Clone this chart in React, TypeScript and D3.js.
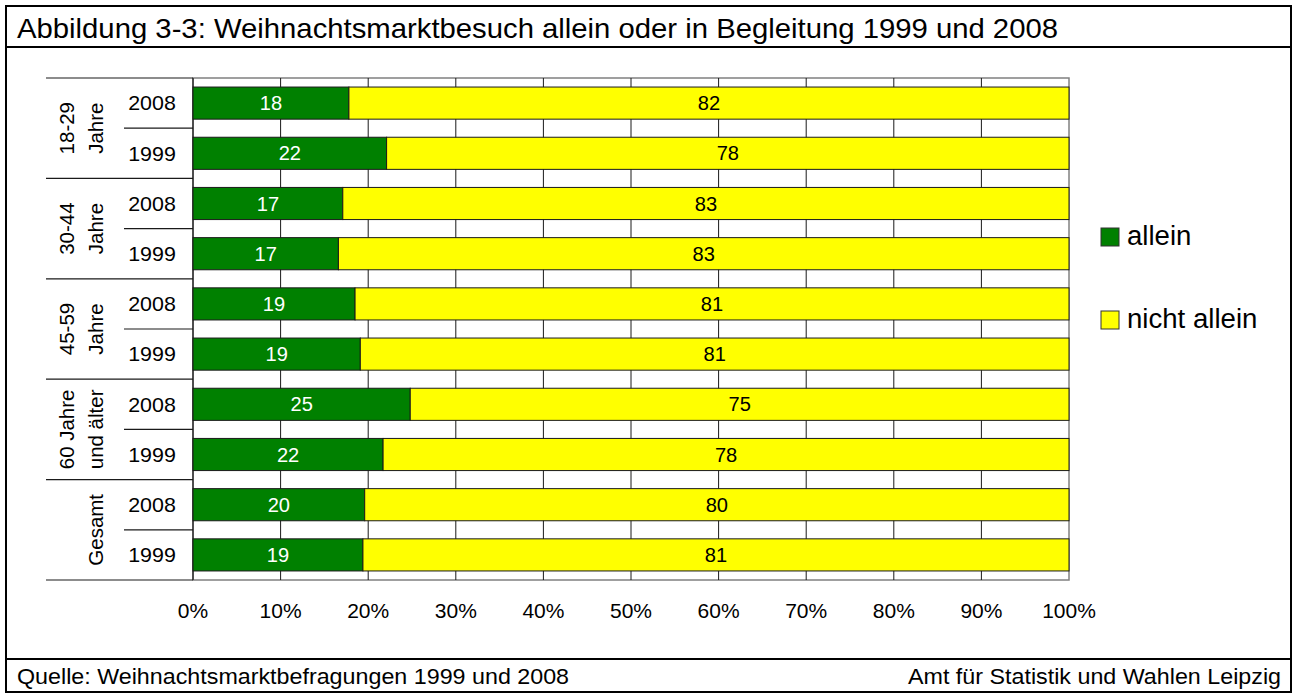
import React from "react";
import * as d3 from "d3";

const title = "Abbildung 3-3: Weihnachtsmarktbesuch allein oder in Begleitung 1999 und 2008";
const sourceLeft = "Quelle: Weihnachtsmarktbefragungen 1999 und 2008";
const sourceRight = "Amt für Statistik und Wahlen Leipzig";

const groupLabels: string[][] = [
  ["18-29", "Jahre"],
  ["30-44", "Jahre"],
  ["45-59", "Jahre"],
  ["60 Jahre", "und älter"],
  ["Gesamt"],
];
const years = ["2008", "1999"];
const alleinValues = [17.8, 22.1, 17.1, 16.6, 18.5, 19.1, 24.8, 21.7, 19.6, 19.4];
const alleinLabels = [18, 22, 17, 17, 19, 19, 25, 22, 20, 19];
const nichtLabels = [82, 78, 83, 83, 81, 81, 75, 78, 80, 81];
const seriesNames = ["allein", "nicht allein"];
const seriesColors = ["#008000", "#ffff00"];
const xTicks = [0, 10, 20, 30, 40, 50, 60, 70, 80, 90, 100];

const FONT = "'Liberation Sans', Arial, Helvetica, sans-serif";
const SX = 1.03;

function T(props: { x: number; y: number; size: number; anchor?: string; fill?: string; rot?: boolean; children: React.ReactNode }) {
  const { x, y, size, anchor = "start", fill = "#000", rot = false, children } = props;
  const tf = `translate(${x},${y}) scale(${SX},1)${rot ? " rotate(-90)" : ""}`;
  return (
    <text transform={tf} fontSize={size} textAnchor={anchor} fill={fill}>
      {children}
    </text>
  );
}

export default function App() {
  const W = 1293, H = 695;
  const plotL = 193, plotR = 1069, plotT = 78, plotB = 580;
  const x = d3.scaleLinear().domain([0, 100]).range([plotL, plotR]);
  const rows = d3.range(alleinValues.length);
  const y = d3.scaleBand<number>().domain(rows).range([plotT, plotB]).paddingInner(0.36).paddingOuter(0.18);
  const step = y.step();
  const groupH = step * 2;
  const fmt = (v: number) => `${v}%`;

  return (
    <svg width={W} height={H} style={{ position: "absolute", left: 0, top: 0, background: "#fff" }} fontFamily={FONT}>
      <rect x={0} y={0} width={W} height={H} fill="#fff" />
      {/* frame */}
      <rect x={6} y={6} width={1285} height={686} fill="none" stroke="#000" strokeWidth={2} />
      <line x1={6} x2={1291} y1={47} y2={47} stroke="#000" strokeWidth={2} />
      <line x1={6} x2={1291} y1={659} y2={659} stroke="#000" strokeWidth={2} />
      <text x={17} y={37.5} fontSize={28} textLength={1041} lengthAdjust="spacingAndGlyphs">{title}</text>
      <T x={17} y={684} size={22.6}>{sourceLeft}</T>
      <T x={1281} y={684} size={22.6} anchor="end">{sourceRight}</T>

      {/* plot area */}
      <rect x={plotL} y={plotT} width={plotR - plotL} height={plotB - plotT} fill="#fff" stroke="#808080" strokeWidth={1.5} />
      {xTicks.slice(1, -1).map((t) => (
        <line key={t} x1={x(t)} x2={x(t)} y1={plotT} y2={plotB} stroke="#1a1a1a" strokeWidth={1} />
      ))}
      <line x1={plotL} x2={plotL} y1={plotT} y2={plotB} stroke="#333" strokeWidth={1.5} />

      {/* bars */}
      {rows.map((i) => {
        const a = alleinValues[i];
        const by = y(i)!;
        const bh = y.bandwidth();
        const cy = by + bh / 2 + 7;
        return (
          <g key={i}>
            <rect x={x(0)} y={by} width={x(a) - x(0)} height={bh} fill={seriesColors[0]} stroke="#1a1a1a" strokeWidth={1} />
            <rect x={x(a)} y={by} width={x(100) - x(a)} height={bh} fill={seriesColors[1]} stroke="#1a1a1a" strokeWidth={1} />
            <T x={(x(0) + x(a)) / 2} y={cy} anchor="middle" size={19.5} fill="#fff">{alleinLabels[i]}</T>
            <T x={(x(a) + x(100)) / 2} y={cy} anchor="middle" size={19.5}>{nichtLabels[i]}</T>
          </g>
        );
      })}

      {/* category axis */}
      {groupLabels.map((g, gi) => {
        const top = plotT + gi * groupH;
        const mid = top + groupH / 2;
        const cx2 = 102.5, cx1 = 73.5;
        return (
          <g key={gi}>
            <line x1={46} x2={plotL} y1={top} y2={top} stroke="#1a1a1a" strokeWidth={1.2} />
            <line x1={124} x2={plotL} y1={top + step} y2={top + step} stroke="#1a1a1a" strokeWidth={1.2} />
            {g.length === 2 ? (
              <>
                <T x={cx1} y={mid} size={20.5} anchor="middle" rot>{g[0]}</T>
                <T x={cx2} y={mid} size={20.5} anchor="middle" rot>{g[1]}</T>
              </>
            ) : (
              <T x={cx2} y={mid} size={20.5} anchor="middle" rot>{g[0]}</T>
            )}
            {years.map((yr, yi) => (
              <T key={yr} x={152} y={top + step * yi + step / 2 + 7.3} anchor="middle" size={20.8}>{yr}</T>
            ))}
          </g>
        );
      })}
      <line x1={46} x2={plotL} y1={plotB} y2={plotB} stroke="#1a1a1a" strokeWidth={1.2} />

      {/* x axis labels */}
      {xTicks.map((t) => (
        <T key={t} x={x(t)} y={618} anchor="middle" size={20.4}>{fmt(t)}</T>
      ))}

      {/* legend */}
      {seriesNames.map((n, i) => {
        const ly = 228 + i * 83;
        return (
          <g key={n}>
            <rect x={1101} y={ly} width={18} height={18} fill={seriesColors[i]} stroke="#333" strokeWidth={1} />
            <T x={1127} y={ly + 17} size={26.8}>{n}</T>
          </g>
        );
      })}
    </svg>
  );
}
